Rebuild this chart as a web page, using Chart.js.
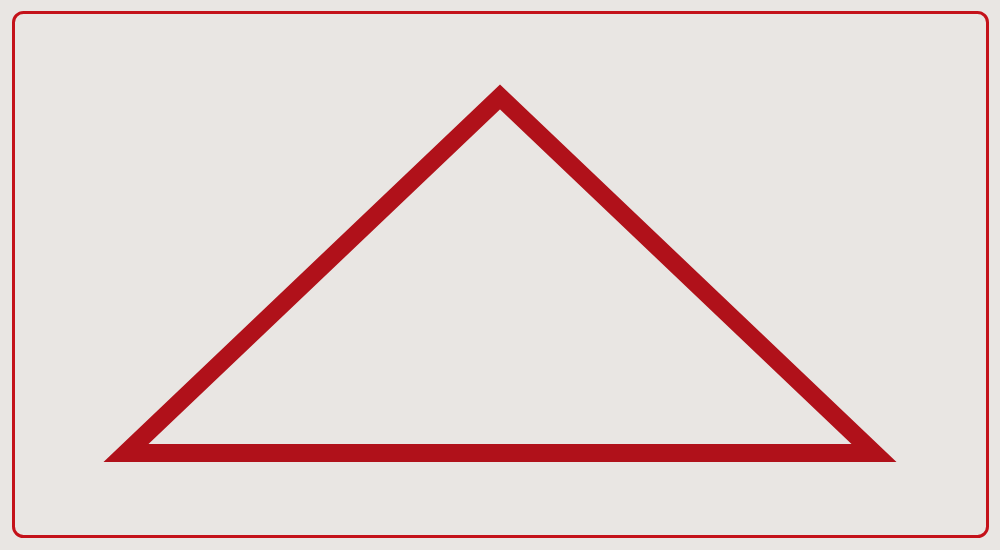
<!DOCTYPE html>
<html>
<head>
<meta charset="utf-8">
<script src="https://cdn.jsdelivr.net/npm/chart.js@4"></script>
<style>
  html, body { margin: 0; padding: 0; background: #e9e6e3; }
  #wrap { width: 1000px; height: 550px; position: relative; }
</style>
</head>
<body>
<div id="wrap"><canvas id="triangleChart"></canvas></div>
<script>
"use strict";

// Triangle corners in picture units (x across 0-1000, y down 0-550),
// starting at the middle of the base so the path closes on a straight run
var triangleX = [500, 874, 500, 126, 500];
var triangleY = [453, 453, 97, 453, 453];

var BG_COLOR = "#e9e6e3";
var FRAME_COLOR = "#c4121a";
var LINE_COLOR = "#b0111a";

var framePlugin = {
  id: "frame",
  beforeDraw: function (chart) {
    var ctx = chart.ctx;
    ctx.save();
    ctx.fillStyle = BG_COLOR;
    ctx.fillRect(0, 0, chart.width, chart.height);
    ctx.strokeStyle = FRAME_COLOR;
    ctx.lineWidth = 3;
    ctx.beginPath();
    ctx.roundRect(13.5, 12.5, chart.width - 26, chart.height - 26, 10);
    ctx.stroke();
    ctx.restore();
  },
};

new Chart(document.getElementById("triangleChart"), {
  type: "scatter",
  data: {
    datasets: [
      {
        data: triangleX.map(function (x, i) {
          return { x: x, y: triangleY[i] };
        }),
        showLine: true,
        borderColor: LINE_COLOR,
        borderWidth: 18,
        borderJoinStyle: "miter",
        borderCapStyle: "butt",
        pointRadius: 0,
        pointHoverRadius: 0,
        tension: 0,
        clip: false,
      },
    ],
  },
  options: {
    responsive: true,
    maintainAspectRatio: false,
    devicePixelRatio: 1,
    animation: false,
    layout: { padding: 0 },
    plugins: {
      legend: { display: false },
      tooltip: { enabled: false },
    },
    scales: {
      x: { type: "linear", min: 0, max: 1000, display: false },
      y: { type: "linear", min: 0, max: 550, reverse: true, display: false },
    },
  },
  plugins: [framePlugin],
});
</script>
</body>
</html>
